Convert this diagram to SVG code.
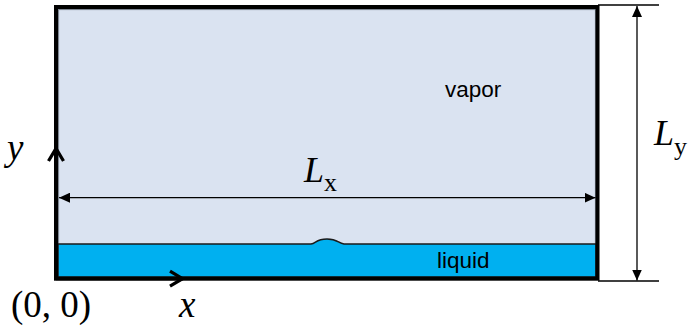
<svg xmlns="http://www.w3.org/2000/svg" width="688" height="328" viewBox="0 0 688 328">
  <style>
    .math { font-family: "Liberation Serif", "Times New Roman", serif; fill: #000; }
    .it { font-style: italic; }
    .lbl { font-family: "Liberation Sans", Arial, sans-serif; font-size: 22.5px; fill: #000; }
    .dim { stroke: #000; stroke-width: 1.3; fill: none; }
    .ext { stroke: #000; stroke-width: 1.5; fill: none; }
    .axis { stroke: #000; stroke-width: 3.3; fill: none; }
  </style>
  <defs>
    <marker id="dimArrow" markerUnits="userSpaceOnUse" viewBox="0 0 11 10" markerWidth="11" markerHeight="10" refX="11" refY="5" orient="auto-start-reverse">
      <path d="M0,0 L11,5 L0,10 Z" fill="#000"/>
    </marker>
    <marker id="axisArrow" markerUnits="userSpaceOnUse" viewBox="-3 -11 19 22" markerWidth="19" markerHeight="22" refX="12.5" refY="0" orient="auto" overflow="visible">
      <path d="M0,-7.5 L12.5,0 L0,7.5" fill="none" stroke="#000" stroke-width="3.3"/>
    </marker>
  </defs>

  <g id="domain">
    <rect x="58.5" y="9.5" width="537" height="267" fill="#DAE3F1" stroke="#7d8591" stroke-width="1.2"/>
  </g>

  <g id="liquid">
    <path d="M58,244 L311,244 C316,243.5 316,239 327,239 C338,239 338,243.5 344,244 L596,244 L596,277 L58,277 Z" fill="#00B0F0" stroke="#1a1a1a" stroke-width="1.5"/>
    <text class="lbl" x="437" y="268">liquid</text>
  </g>

  <g id="vapor">
    <text class="lbl" x="445" y="97">vapor</text>
  </g>

  <g id="border">
    <rect x="56" y="7" width="541.5" height="271.7" fill="none" stroke="#000" stroke-width="4"/>
  </g>

  <g id="connectors">
    <line class="dim" x1="59" y1="197.7" x2="595.5" y2="197.7" marker-start="url(#dimArrow)" marker-end="url(#dimArrow)"/>
    <line class="ext" x1="598" y1="5" x2="659" y2="5"/>
    <line class="ext" x1="598" y1="281" x2="659" y2="281"/>
    <line class="dim" x1="637" y1="6" x2="637" y2="280.5" marker-start="url(#dimArrow)" marker-end="url(#dimArrow)"/>
    <line class="axis" x1="56" y1="278.7" x2="56" y2="148.5" marker-end="url(#axisArrow)"/>
    <line class="axis" x1="56" y1="278.7" x2="182.5" y2="278.7" marker-end="url(#axisArrow)"/>
  </g>

  <g id="labels">
    <text class="math it" x="7" y="160" font-size="37">y</text>
    <text class="math it" x="179" y="317" font-size="37">x</text>
    <text class="math" x="11" y="317" font-size="37">(0, 0)</text>
    <text class="math" x="304" y="182" font-size="36"><tspan class="it">L</tspan><tspan font-size="26" dy="9">x</tspan></text>
    <text class="math" x="654" y="145" font-size="36"><tspan class="it">L</tspan><tspan font-size="26" dy="10">y</tspan></text>
  </g>
</svg>
